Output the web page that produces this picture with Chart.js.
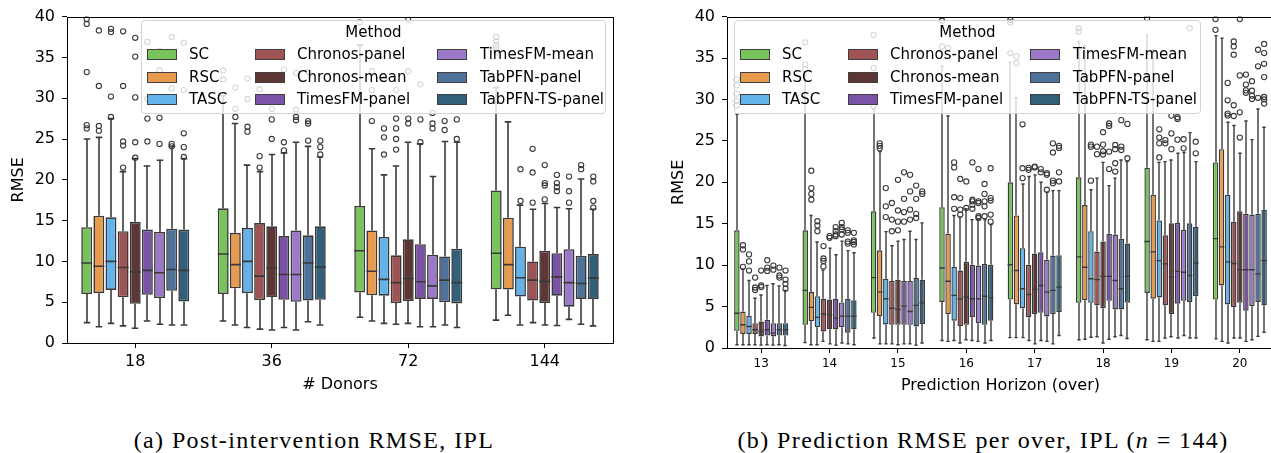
<!DOCTYPE html>
<html>
<head>
<meta charset="utf-8">
<script src="https://cdn.jsdelivr.net/npm/chart.js@4.4.1/dist/chart.umd.min.js"></script>
<style>
body{margin:0;width:1271px;height:453px;overflow:hidden;background:#fff;position:relative;font-family:"DejaVu Sans",sans-serif;}
.panel{position:absolute;top:0;}
.legend{position:absolute;top:20px;height:92px;background:rgba(255,255,255,0.8);border:1px solid #d4d4d4;border-radius:4px;font-size:15px;color:#000;}
.legend .ttl{position:absolute;top:2px;left:0;right:0;text-align:center;}
.legend .sw{position:absolute;width:28px;height:9px;border:1.3px solid #3f3f3f;}
.legend .lb{position:absolute;white-space:nowrap;line-height:18px;}
.caption{position:absolute;top:440px;font-family:"Liberation Serif",serif;font-size:24px;letter-spacing:1.4px;color:#000;white-space:nowrap;transform:translate(-50%,-50%);}
</style>
</head>
<body>

<div class="panel" style="left:0px"><canvas id="donorChart" width="640" height="400"></canvas></div>
<div class="panel" style="left:660px"><canvas id="overChart" width="640" height="400"></canvas></div>

<div class="caption" style="left:314px">(a) Post-intervention RMSE, IPL</div>
<div class="caption" style="left:983px">(b) Prediction RMSE per over, IPL (<i>n</i> = 144)</div>

<script>

const methodNames = ["SC","RSC","TASC","Chronos-panel","Chronos-mean","TimesFM-panel","TimesFM-mean","TabPFN-panel","TabPFN-TS-panel"];
const methodColors = ["#78c35b","#e89b4e","#62b3ea","#9e5454","#5e3636","#7a52a6","#9b79c8","#4d7199","#325f7a"];

const donorLabels = ["18","36","72","144"];
const overLabels = ["13","14","15","16","17","18","19","20"];
const yTicksMin = 0;
const yTicksMax = 40;
const yTicksStep = 5;

/* one row per method, one entry per group: [whisker low, q1, median, q3, whisker high] */
const donorBoxes = [
[[2.5,6.0,9.8,14.2,25.0],[2.7,6.0,10.9,16.5,30.3],[3.15,6.2,11.3,16.8,36.5],[2.8,6.6,11.0,18.7,31.3]],
[[2.0,6.1,9.4,15.6,25.2],[2.2,6.7,9.6,13.5,26.9],[2.7,5.85,8.8,13.8,23.8],[3.4,6.55,9.6,15.35,27.1]],
[[2.4,6.5,10.0,15.4,27.5],[1.9,6.1,10.0,14.1,21.8],[2.4,5.8,7.8,13.0,20.6],[2.2,5.7,8.0,11.8,16.9]],
[[2.1,5.6,9.25,13.7,21.0],[1.7,5.25,8.2,14.7,21.0],[2.3,4.9,7.4,10.75,21.7],[2.5,5.2,7.7,10.0,16.4]],
[[1.8,4.8,8.7,14.85,22.6],[1.6,5.65,9.2,14.3,23.1],[2.4,5.15,7.9,12.7,24.6],[2.2,4.9,7.55,11.3,17.1]],
[[2.7,5.9,8.9,13.9,21.7],[1.9,5.3,8.4,13.1,23.3],[2.0,5.4,7.5,12.1,24.4],[2.15,5.8,8.1,11.0,16.6]],
[[2.3,5.5,8.6,13.6,22.4],[1.6,5.05,8.4,13.8,24.6],[2.0,5.4,7.0,10.8,20.4],[2.9,4.45,7.4,11.5,16.45]],
[[2.2,6.4,9.0,14.0,24.1],[2.6,5.2,9.8,13.2,24.1],[2.2,5.0,7.7,10.6,24.7],[2.3,5.4,7.3,10.7,20.1]],
[[2.2,5.1,8.9,13.9,22.6],[2.2,5.3,9.3,14.3,22.8],[1.9,4.85,7.4,11.55,24.6],[2.1,5.4,7.95,10.9,16.4]]
];

const donorOutliers = [
[[26.3,26.7,33.2,39.1,39.7],[32.3,33.4],[39.3],[35.6,36.2,36.5,37.0,37.5]],
[[26.0,26.6,31.5,38.3],[27.7,28.7,31.3],[27.2,31.0,33.3],[]],
[[27.7,30.2,38.1,38.5],[25.9,26.5,29.9,32.4],[23.1,25.2,26.3,32.3],[17.4,21.3]],
[[21.5,24.2,24.7,31.5,38.2],[21.5,22.9,31.1],[23.7,25.0,26.3,27.5,31.0],[17.2,20.9,23.8]],
[[22.7,24.6,30.1,35.1,37.4],[25.0,27.4,28.7,30.2],[26.9,27.5,33.3,39.6],[17.6,19.3,19.6,21.8]],
[[24.7,27.5,29.9,36.9],[23.6,24.6,33.5],[24.6,27.4,31.7],[18.6,19.1,19.6,20.6]],
[[24.4,27.6,33.4,35.8],[27.3,27.7,28.6,33.1],[26.3,26.9,28.2],[17.2,18.6,20.4]],
[[24.1,24.4,31.2,37.5],[24.8,26.9,27.2,33.2],[26.1,27.2],[21.3,21.8]],
[[22.8,24.0,25.7,31.0,36.8],[23.1,24.0,24.8],[25.0,27.4],[16.6,17.4,19.8,20.4]]
];

const overBoxes = [
[[0.4,2.07,4.2,14.2,28.2],[0.65,2.8,6.95,14.2,33.0],[1.2,4.25,8.5,16.5,28.8],[0.9,5.55,9.65,17.0,34.0],[1.25,5.85,10.05,20.0,34.5],[1.0,5.45,11.0,20.6,37.0],[1.0,6.65,12.85,21.75,37.8],[1.1,5.85,13.2,22.4,37.7]],
[[0.4,1.7,2.8,4.4,9.5],[0.4,3.25,4.9,6.75,16.0],[0.5,3.85,6.75,11.8,23.7],[0.8,4.1,8.05,13.8,28.0],[1.25,5.25,9.35,16.0,30.2],[1.05,5.75,9.75,17.25,36.5],[0.8,5.95,11.6,18.5,36.0],[0.8,7.55,12.2,24.0,37.4]],
[[0.4,1.7,2.6,3.9,8.15],[0.4,2.5,3.7,6.25,12.8],[0.5,2.85,5.95,8.35,14.05],[0.9,3.3,6.35,9.8,16.0],[1.25,4.8,7.15,12.05,19.8],[1.3,5.45,8.35,14.1,19.1],[0.8,6.1,10.55,15.4,22.4],[0.6,5.25,10.4,18.5,27.25]],
[[0.4,1.7,2.2,3.0,6.0],[0.8,2.0,4.1,5.95,9.4],[0.5,2.8,4.8,8.1,12.35],[0.6,2.65,5.95,9.35,15.8],[0.9,3.7,6.45,10.05,20.7],[1.35,5.15,8.25,11.65,20.5],[1.2,5.15,10.15,13.6,22.5],[1.2,4.95,10.2,15.25,26.85]],
[[0.35,1.4,2.0,3.2,6.4],[0.5,2.25,4.0,5.85,12.05],[0.4,2.8,4.65,8.25,12.9],[1.0,2.8,6.15,10.4,16.8],[0.5,4.1,7.1,11.4,20.9],[0.6,4.8,8.65,12.85,22.4],[1.35,4.1,8.55,15.05,22.7],[1.2,5.45,9.45,16.5,23.5]],
[[0.4,1.5,2.2,3.4,7.55],[0.35,2.25,3.6,5.95,11.25],[0.5,2.8,5.05,8.1,13.1],[0.9,3.7,5.95,10.05,15.5],[0.9,4.25,7.55,11.55,20.0],[1.05,5.7,8.65,13.8,19.6],[1.2,5.35,9.25,15.1,23.5],[0.8,4.5,9.45,16.2,27.4]],
[[0.35,1.4,1.8,3.0,7.75],[0.6,2.5,3.85,5.5,12.9],[0.5,2.8,4.4,8.1,14.1],[0.8,3.0,5.95,9.95,15.5],[0.8,3.8,6.75,10.65,18.8],[1.35,4.65,8.15,13.7,20.5],[1.5,5.7,9.15,14.25,23.6],[1.0,5.05,9.45,16.1,25.15]],
[[0.4,1.5,2.2,3.0,7.5],[0.5,1.85,3.85,5.95,11.75],[0.35,2.6,5.15,8.45,13.1],[0.6,2.8,6.25,10.15,15.5],[0.5,4.1,6.95,11.15,19.0],[1.5,4.65,7.15,13.2,22.7],[1.2,5.55,8.75,15.05,26.0],[1.4,5.55,8.95,16.2,28.85]],
[[0.3,1.5,2.2,3.0,6.95],[0.4,2.25,3.85,5.75,11.5],[0.6,2.9,5.45,8.25,15.1],[0.9,3.3,6.05,10.05,14.9],[1.5,4.35,7.35,11.2,19.0],[1.15,5.45,8.65,12.6,22.5],[1.2,6.25,10.25,14.6,22.5],[1.9,5.15,10.55,16.7,26.65]]
];

const overOutliers = [
[[29.3,29.8,30.7,31.7,32.4],[33.6,34.2,36.9],[29.2,33.8,37.8],[36.4,39.5],[35.6,39.3,39.6],[38.2,38.6],[39.8],[38.4,39.7]],
[[9.8,11.9,12.4],[17.9,18.6,19.3,21.4],[24.1,24.4,24.7],[36.2],[34.4,35.2],[],[],[]],
[[9.35,10.45,11.3],[14.1,14.8,15.3],[15.8,17.1,19.3],[16.8,18.2,21.8,22.4],[20.5,21.7,27.0],[20.2,24.3,24.55],[23.0,24.7,25.4,26.4],[28.05,28.3,29.9,32.0]],
[[7.0,7.3,8.5],[9.85,10.5,10.8,12.3],[14.1,15.5,17.5],[16.1,16.7,18.1,20.4],[21.5,21.75],[23.4,24.3],[24.7,25.1],[28.0,29.3,35.4,36.4,37.0]],
[[7.35,7.55,9.35],[13.3,13.5],[14.2,15.25,16.6,20.3],[16.9,20.1],[21.8,21.9],[23.35,23.75,24.55,26.05],[24.0,25.9,28.05],[25.4,28.45,32.9,39.7]],
[[9.3,9.7,10.6],[13.5,13.7,14.1,14.6],[15.25,16.4,18.0,21.2],[16.8,17.3,17.7,17.9,22.4],[21.2,21.6],[21.6,23.7,26.8,27.1],[25.15,27.65,27.85],[30.8,31.1,31.8,33.0]],
[[9.45,9.95],[13.7,14.3,14.6,15.1],[15.5,16.7,18.9,20.9],[15.7,15.9,17.5,17.7,21.6],[19.1,20.9,21.1],[21.3,22.3,24.0,24.5],[24.1,25.2],[30.05,30.45,31.05,32.2]],
[[8.5,8.75,9.7],[12.6,12.85,13.9,14.2],[15.7,16.2,18.0,19.6],[15.9,17.1,17.7,18.6,19.8],[19.9,20.2,23.6,24.7],[23.9,24.3,27.5],[38.6],[30.2,34.0,36.0]],
[[7.15,7.75,8.25,9.35],[12.5,12.8,13.0,13.9],[18.6,18.9],[15.25,16.1,17.8,18.1,21.7],[20.1,21.2,24.15,24.4],[22.9,27.05],[23.5,24.9],[29.5,30.0,30.3,32.7,34.3,35.6,36.7]]
];

Chart.defaults.font.family = '"DejaVu Sans", sans-serif';
Chart.defaults.color = "#000";

const edgeColor = "#3a3a3a";

/* whiskers, medians, fliers and the axes frame */
const boxPlugin = {
id:"boxes",
afterDatasetsDraw(chart, args, opts){
const ctx = chart.ctx;
const area = chart.chartArea;
const yScale = chart.scales.y;
const py = v => yScale.getPixelForValue(v);

ctx.save();
ctx.beginPath();
ctx.rect(area.left, area.top, area.right - area.left, area.bottom - area.top);
ctx.clip();
ctx.strokeStyle = edgeColor;

chart.data.datasets.forEach((ds, m)=>{
const meta = chart.getDatasetMeta(m);
meta.data.forEach((bar, g)=>{
const s = opts.stats[m][g];
const x = Math.round(bar.x);
const w = bar.width;
const cap = w * 0.3;

ctx.lineWidth = opts.lineWidth;
ctx.beginPath();
ctx.moveTo(x, py(s[3])); ctx.lineTo(x, py(s[4]));
ctx.moveTo(x, py(s[1])); ctx.lineTo(x, py(s[0]));
ctx.moveTo(x - cap, py(s[4])); ctx.lineTo(x + cap, py(s[4]));
ctx.moveTo(x - cap, py(s[0])); ctx.lineTo(x + cap, py(s[0]));
ctx.moveTo(bar.x - w/2, py(s[2])); ctx.lineTo(bar.x + w/2, py(s[2]));
ctx.stroke();

ctx.lineWidth = 1.1;
opts.outliers[m][g].forEach(v=>{
ctx.beginPath();
ctx.arc(bar.x, py(v), opts.radius, 0, Math.PI*2);
ctx.stroke();
});
});
});
ctx.restore();

ctx.save();
ctx.strokeStyle = "#000";
ctx.lineWidth = 1;
ctx.strokeRect(Math.round(area.left) + 0.5, Math.round(area.top) + 0.5,
Math.round(area.right - area.left), Math.round(area.bottom - area.top));
ctx.restore();
}
};

function makeChart(canvasId, labels, stats, outliers, cfg){

const datasets = methodNames.map((name, m)=>({
label:name,
data:stats[m].map(s => [s[1], s[3]]),
backgroundColor:methodColors[m],
borderColor:edgeColor,
borderWidth:cfg.lineWidth,
borderSkipped:false,
categoryPercentage:0.8,
barPercentage:0.9
}));

return new Chart(
document.getElementById(canvasId),
{
type:"bar",
data:{labels:labels, datasets:datasets},
plugins:[boxPlugin],
options:{
responsive:false,
animation:false,
layout:{padding:{left:0, top:13, right:cfg.rightPad, bottom:0}},
plugins:{
legend:{display:false},
tooltip:{enabled:false},
boxes:{stats:stats, outliers:outliers, lineWidth:cfg.lineWidth, radius:2.6}
},
scales:{
x:{
grid:{display:true, drawOnChartArea:false, offset:false, tickLength:5, color:"#000"},
border:{display:false},
ticks:{font:{size:cfg.xTickSize}, padding:cfg.xTickPad, color:"#000"},
title:{display:true, text:cfg.xTitle, font:{size:16}, padding:{top:0, bottom:cfg.xTitlePad}},
afterFit:scale => { scale.height = cfg.xHeight; }
},
y:{
min:yTicksMin,
max:yTicksMax,
grid:{display:true, drawOnChartArea:false, tickLength:5, color:"#000"},
border:{display:false},
ticks:{stepSize:yTicksStep, font:{size:16}, padding:7, color:"#000"},
title:{display:true, text:"RMSE", font:{size:16}, padding:{top:9, bottom:0}},
afterFit:scale => { scale.width = 67; }
}
}
}
}
);
}

makeChart("donorChart", donorLabels, donorBoxes, donorOutliers,
{xTitle:"# Donors", xTickSize:16, xTickPad:4, xTitlePad:6, xHeight:57, rightPad:27, lineWidth:1.6});

makeChart("overChart", overLabels, overBoxes, overOutliers,
{xTitle:"Prediction Horizon (over)", xTickSize:12, xTickPad:4, xTitlePad:5, xHeight:52, rightPad:26, lineWidth:1.4});

/* legends drawn as html on top of each panel */
function buildLegend(left, width){
const box = document.createElement("div");
box.className = "legend";
box.style.left = left + "px";
box.style.width = width + "px";

const ttl = document.createElement("div");
ttl.className = "ttl";
ttl.textContent = "Method";
box.appendChild(ttl);

const colX = [5, 113, 295];
const textX = [47, 155, 338];
const rowY = [34, 57, 79];

methodNames.forEach((name, i)=>{
const col = Math.floor(i / 3);
const row = i % 3;

const sw = document.createElement("div");
sw.className = "sw";
sw.style.left = colX[col] + "px";
sw.style.top = (rowY[row] - 6) + "px";
sw.style.background = methodColors[i];
box.appendChild(sw);

const lb = document.createElement("div");
lb.className = "lb";
lb.style.left = textX[col] + "px";
lb.style.top = (rowY[row] - 10) + "px";
lb.textContent = name;
box.appendChild(lb);
});

document.body.appendChild(box);
}

buildLegend(141, 463);
buildLegend(734, 465);

</script>
</body>
</html>
